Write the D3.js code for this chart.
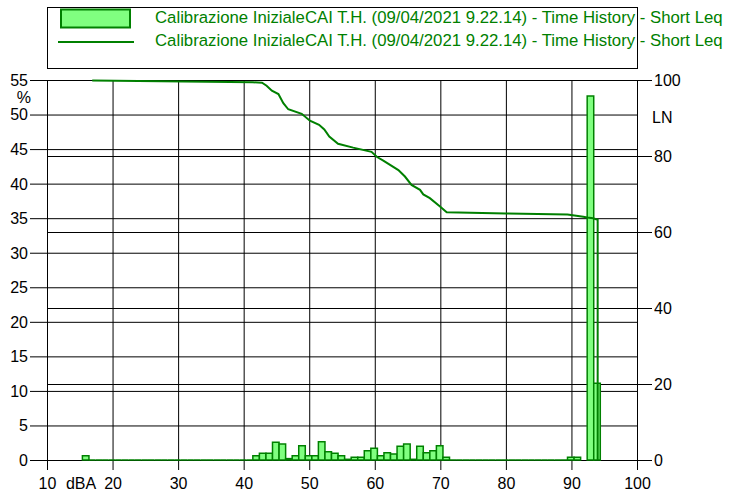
<!DOCTYPE html>
<html>
<head>
<meta charset="utf-8">
<script src="https://cdn.jsdelivr.net/npm/d3@7"></script>
<style>
  html, body { margin: 0; padding: 0; background: #fff; }
  svg { display: block; }
  text { font-family: Arial, "Liberation Sans", sans-serif; font-size: 16px; }
</style>
</head>
<body>
<svg id="chart" width="739" height="495"></svg>
<script>
// ---------------- DATA ----------------
const legendLabels = [
  "Calibrazione InizialeCAI T.H. (09/04/2021 9.22.14) - Time History - Short Leq",
  "Calibrazione InizialeCAI T.H. (09/04/2021 9.22.14) - Time History - Short Leq"
];
const xTicks = [10, 20, 30, 40, 50, 60, 70, 80, 90, 100];
const xUnit = "dBA";
const leftTicks = [0, 5, 10, 15, 20, 25, 30, 35, 40, 45, 50, 55];
const leftUnit = "%";
const rightTicks = [0, 20, 40, 60, 80, 100];
const rightUnit = "LN";

// Histogram: level class (dB) and percentage of time
const binLevels = [15, 16, 17, 18, 19, 20, 21, 22, 23, 24, 25, 26, 27, 28, 29, 30,
  31, 32, 33, 34, 35, 36, 37, 38, 39, 40,
  41, 42, 43, 44, 45, 46, 47, 48, 49, 50, 51, 52, 53, 54, 55, 56, 57, 58, 59, 60,
  61, 62, 63, 64, 65, 66, 67, 68, 69, 70,
  71, 72, 73, 74, 75, 76, 77, 78, 79, 80, 81, 82, 83, 84, 85, 86, 87, 88,
  89, 90, 92, 93];
const binPercent = [0.6, 0, 0, 0, 0, 0, 0, 0, 0, 0, 0, 0, 0, 0, 0, 0,
  0, 0, 0, 0, 0, 0, 0, 0, 0, 0,
  0.63, 0.96, 0.96, 2.56, 2.3, 0.2, 0.63, 2.07, 0.63, 0.63, 2.65, 1.2, 0.96, 0.63, 0.1, 0.4, 0.4, 1.35, 1.7, 0.63,
  1.06, 0.87, 2.0, 2.3, 0.1, 2.0, 1.06, 1.35, 2.07, 0.4,
  0, 0, 0, 0, 0, 0, 0, 0, 0, 0, 0, 0, 0, 0, 0, 0, 0, 0,
  0.4, 0.4, 52.7, 11.1];

// Cumulative curve LN (%) vs level (dB)
const lnLevels = [16.9, 41.4, 42.8, 43.5, 44.3, 45.3, 46.05, 46.8, 48.85, 50.1, 51.5, 52.3, 53.06, 54.4,
  56.7, 59.5, 60.3, 61.3, 63.6, 64.6, 65.6, 66.9, 67.4, 68.4, 69.95, 70.97,
  80.0, 89.4, 91.8, 92.4, 93.3, 94.0, 94.0];
const lnValues = [99.9, 99.4, 99.3, 98.5, 97.2, 96.3, 93.9, 92.3, 91.1, 89.3, 88.2, 87.0, 85.1, 83.2,
  82.2, 81.1, 79.8, 78.8, 76.3, 74.6, 72.4, 71.1, 69.9, 68.9, 66.7, 65.2,
  64.9, 64.6, 64.0, 63.8, 63.6, 63.2, 0];

// ---------------- LAYOUT ----------------
const svg = d3.select("#chart");
const L = 47, R = 637, T = 80, B = 460;
const green = "#008000", lightGreen = "#80ff80";

const x = d3.scaleLinear().domain([10, 100]).range([L, R]);
const yL = d3.scaleLinear().domain([0, 55]).range([B, T]);
const yR = d3.scaleLinear().domain([0, 100]).range([B, T]);

// Legend
const leg = svg.append("g");
leg.append("rect").attr("x", 47.5).attr("y", 7.5).attr("width", 590).attr("height", 61)
  .attr("fill", "#fff").attr("stroke", "#000").attr("stroke-width", 1);
leg.append("rect").attr("x", 61).attr("y", 9.5).attr("width", 69).attr("height", 18)
  .attr("fill", lightGreen).attr("stroke", green).attr("stroke-width", 2);
leg.append("line").attr("x1", 58).attr("x2", 134).attr("y1", 42).attr("y2", 42)
  .attr("stroke", green).attr("stroke-width", 2);
leg.selectAll("text.leg").data(legendLabels).join("text").attr("class", "leg")
  .attr("x", 155).attr("y", (d, i) => 23 + i * 22.5)
  .style("font-size", "16.75px")
  .attr("fill", green).text(d => d);

// Axes / grid
function styleAxis(g) {
  g.selectAll("line").attr("stroke", "#000").attr("stroke-width", 1);
  g.select(".domain").attr("stroke", "#000").attr("stroke-width", 1);
  g.selectAll("text").attr("fill", "#000")
    .style("font-family", "Arial, 'Liberation Sans', sans-serif").style("font-size", "16px");
}

const gLeft = svg.append("g").attr("transform", `translate(${R},0)`)
  .call(d3.axisLeft(yL).tickValues(leftTicks).tickSize(R - 30).tickSizeOuter(0).tickPadding(2));
styleAxis(gLeft);
gLeft.selectAll("text").attr("dy", "0.34em");

const gRight = svg.append("g").attr("transform", `translate(${L},0)`)
  .call(d3.axisRight(yR).tickValues(rightTicks).tickSize(652 - L).tickSizeOuter(0).tickPadding(2));
styleAxis(gRight);

const gBottom = svg.append("g").attr("transform", `translate(0,${T})`)
  .call(d3.axisBottom(x).tickValues(xTicks).tickSize(470 - T).tickSizeOuter(0).tickPadding(8));
styleAxis(gBottom);

// Unit labels
svg.append("text").attr("x", 31).attr("y", 103).attr("text-anchor", "end").text(leftUnit);
svg.append("text").attr("x", 652).attr("y", 123).text(rightUnit);
svg.append("text").attr("x", 81).attr("y", 478).attr("dy", "0.71em").attr("text-anchor", "middle").text(xUnit);

// Histogram bars
const bars = binLevels.map((lv, i) => ({ lv, v: binPercent[i] }));
svg.append("g").selectAll("path").data(bars).join("path")
  .attr("d", d => {
    const x0 = x(d.lv + 0.4), x1 = x(d.lv + 1.4), y0 = yL(0), y1 = yL(d.v);
    return d.v > 0 ? `M${x0},${y0}V${y1}H${x1}V${y0}Z` : `M${x0},${y0}H${x1}`;
  })
  .attr("fill", lightGreen).attr("stroke", green).attr("stroke-width", 1.5);

// LN curve
const lnData = lnLevels.map((lv, i) => [lv, lnValues[i]]);
svg.append("path").datum(lnData)
  .attr("d", d3.line().x(d => x(d[0])).y(d => yR(d[1])))
  .attr("fill", "none").attr("stroke", green).attr("stroke-width", 2);
</script>
</body>
</html>
